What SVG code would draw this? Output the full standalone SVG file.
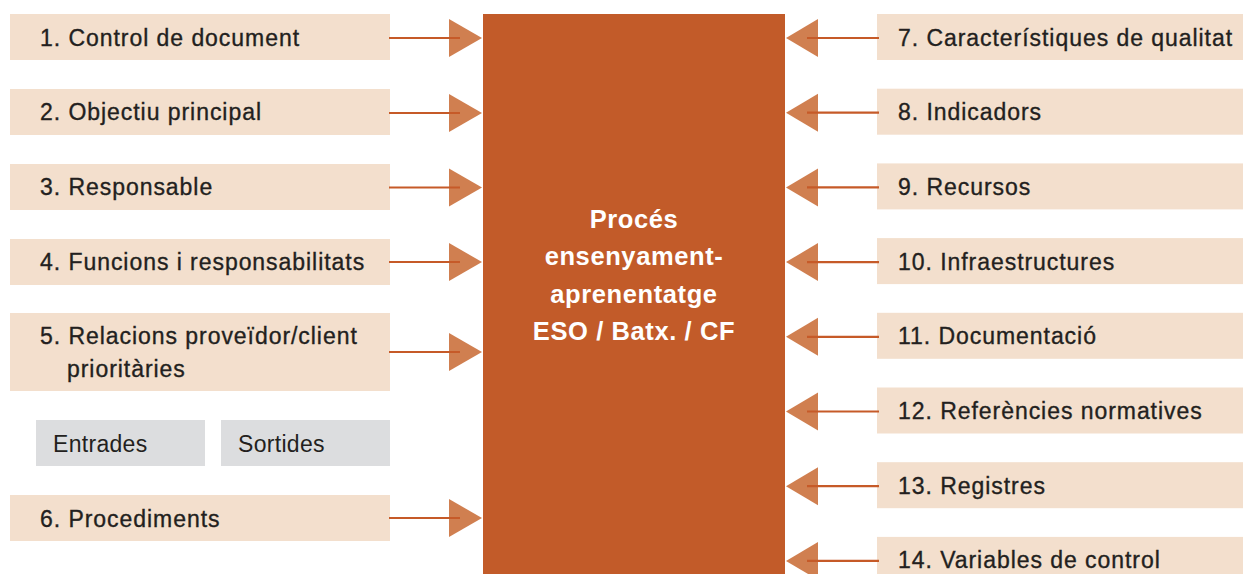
<svg xmlns="http://www.w3.org/2000/svg" width="1243" height="574" viewBox="0 0 1243 574">
  <style>
    .box { fill: #f3dfcd; }
    .tag { fill: #dcdddf; }
    .lbl { font-family: "Liberation Sans", Arial, sans-serif; font-size: 23px; letter-spacing: 0.95px; fill: #231f20; stroke: #231f20; stroke-width: 0.35px; }
    .tagtxt { font-family: "Liberation Sans", Arial, sans-serif; font-size: 23px; letter-spacing: 0.3px; fill: #231f20; }
    .core { fill: #c25b29; }
    .coretxt { font-family: "Liberation Sans", Arial, sans-serif; font-size: 25.5px; font-weight: bold; letter-spacing: 0.6px; fill: #ffffff; text-anchor: middle; }
    .shaft { stroke: #c65a28; stroke-width: 2.2; fill: none; }
    .head { fill: #d07f50; }
  </style>

  <!-- central process block -->
  <g id="proces">
    <rect class="core" x="483" y="14" width="302" height="560"/>
    <text class="coretxt" x="634" y="228">Procés</text>
    <text class="coretxt" x="634" y="265">ensenyament-</text>
    <text class="coretxt" x="634" y="302.5">aprenentatge</text>
    <text class="coretxt" x="634" y="339.5">ESO / Batx. / CF</text>
  </g>

  <!-- inputs (left column) -->
  <g id="n1"><rect class="box" x="10" y="14" width="380" height="46"/><text class="lbl" x="40" y="45.7">1. Control de document</text></g>
  <g id="n2"><rect class="box" x="10" y="89" width="380" height="46"/><text class="lbl" x="40" y="120.3">2. Objectiu principal</text></g>
  <g id="n3"><rect class="box" x="10" y="164" width="380" height="46"/><text class="lbl" x="40" y="195">3. Responsable</text></g>
  <g id="n4"><rect class="box" x="10" y="239" width="380" height="46"/><text class="lbl" x="40" y="269.6">4. Funcions i responsabilitats</text></g>
  <g id="n5"><rect class="box" x="10" y="313" width="380" height="78"/><text class="lbl" x="40" y="344.3">5. Relacions proveïdor/client</text><text class="lbl" x="67" y="376.7">prioritàries</text></g>
  <g id="n6"><rect class="box" x="10" y="495" width="380" height="46"/><text class="lbl" x="40" y="526.7">6. Procediments</text></g>

  <!-- legend -->
  <g id="entrades"><rect class="tag" x="36" y="420" width="169" height="46"/><text class="tagtxt" x="53" y="451.7">Entrades</text></g>
  <g id="sortides"><rect class="tag" x="221" y="420" width="169" height="46"/><text class="tagtxt" x="238" y="451.7">Sortides</text></g>

  <!-- outputs (right column) -->
  <g id="n7"><rect class="box" x="877" y="14" width="366" height="46"/><text class="lbl" x="898" y="45.5">7. Característiques de qualitat</text></g>
  <g id="n8"><rect class="box" x="877" y="88.7" width="366" height="46"/><text class="lbl" x="898" y="120.2">8. Indicadors</text></g>
  <g id="n9"><rect class="box" x="877" y="163.4" width="366" height="46"/><text class="lbl" x="898" y="194.9">9. Recursos</text></g>
  <g id="n10"><rect class="box" x="877" y="238.1" width="366" height="46"/><text class="lbl" x="898" y="269.6">10. Infraestructures</text></g>
  <g id="n11"><rect class="box" x="877" y="312.8" width="366" height="46"/><text class="lbl" x="898" y="344.3">11. Documentació</text></g>
  <g id="n12"><rect class="box" x="877" y="387.5" width="366" height="46"/><text class="lbl" x="898" y="419">12. Referències normatives</text></g>
  <g id="n13"><rect class="box" x="877" y="462.2" width="366" height="46"/><text class="lbl" x="898" y="493.7">13. Registres</text></g>
  <g id="n14"><rect class="box" x="877" y="536.9" width="366" height="46"/><text class="lbl" x="898" y="568.4">14. Variables de control</text></g>

  <!-- connectors -->
  <g id="connectors">
    <g id="in-arrows">
      <path class="head" d="M449 19 L482 38 L449 57 Z"/><line class="shaft" x1="389" y1="38" x2="460" y2="38"/>
      <path class="head" d="M449 94 L482 113 L449 132 Z"/><line class="shaft" x1="389" y1="113" x2="460" y2="113"/>
      <path class="head" d="M449 168.5 L482 187.5 L449 206.5 Z"/><line class="shaft" x1="389" y1="187.5" x2="460" y2="187.5"/>
      <path class="head" d="M449 243 L482 262 L449 281 Z"/><line class="shaft" x1="389" y1="262" x2="460" y2="262"/>
      <path class="head" d="M449 333 L482 352 L449 371 Z"/><line class="shaft" x1="389" y1="352" x2="460" y2="352"/>
      <path class="head" d="M449 499 L482 518 L449 537 Z"/><line class="shaft" x1="389" y1="518" x2="460" y2="518"/>
    </g>
    <g id="out-arrows">
      <path class="head" d="M818 19 L786 38 L818 57 Z"/><line class="shaft" x1="807" y1="38" x2="879" y2="38"/>
      <path class="head" d="M818 93.7 L786 112.7 L818 131.7 Z"/><line class="shaft" x1="807" y1="112.7" x2="879" y2="112.7"/>
      <path class="head" d="M818 168.4 L786 187.4 L818 206.4 Z"/><line class="shaft" x1="807" y1="187.4" x2="879" y2="187.4"/>
      <path class="head" d="M818 243.1 L786 262.1 L818 281.1 Z"/><line class="shaft" x1="807" y1="262.1" x2="879" y2="262.1"/>
      <path class="head" d="M818 317.8 L786 336.8 L818 355.8 Z"/><line class="shaft" x1="807" y1="336.8" x2="879" y2="336.8"/>
      <path class="head" d="M818 392.5 L786 411.5 L818 430.5 Z"/><line class="shaft" x1="807" y1="411.5" x2="879" y2="411.5"/>
      <path class="head" d="M818 467.2 L786 486.2 L818 505.2 Z"/><line class="shaft" x1="807" y1="486.2" x2="879" y2="486.2"/>
      <path class="head" d="M818 541.9 L786 560.9 L818 579.9 Z"/><line class="shaft" x1="807" y1="560.9" x2="879" y2="560.9"/>
    </g>
  </g>
</svg>
